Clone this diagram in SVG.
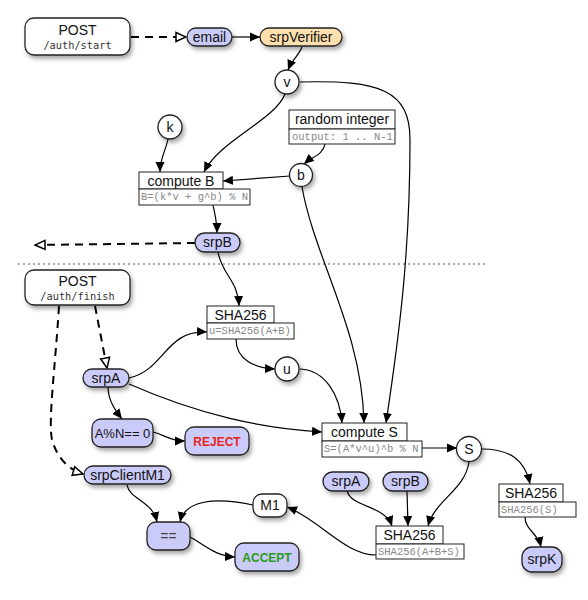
<svg xmlns="http://www.w3.org/2000/svg" width="588" height="600" viewBox="0 0 588 600">
<defs>
<filter id="sh" x="-30%" y="-30%" width="160%" height="170%">
<feDropShadow dx="2" dy="3" stdDeviation="2" flood-color="#000" flood-opacity="0.35"/>
</filter>
<marker id="fa" markerWidth="10" markerHeight="10" refX="10" refY="5" orient="auto" markerUnits="userSpaceOnUse" viewBox="0 0 10 10">
<path d="M0,0.5 L10,5 L0,9.5 z" fill="#000"/>
</marker>
<marker id="ha" markerWidth="12" markerHeight="12" refX="11" refY="6" orient="auto" markerUnits="userSpaceOnUse" viewBox="0 0 12 12">
<path d="M1,1.5 L11,6 L1,10.5 z" fill="#fff" stroke="#000" stroke-width="1.5"/>
</marker>
</defs>
<style>
.bg{fill:#fff}
.rn{stroke:#222;stroke-width:1.3;filter:url(#sh)}
.lav{fill:#cbcbf9}
.org{fill:#fde0ad}
.wh{fill:#fff}
.box{fill:#fff;stroke:#222;stroke-width:1}
.t{font-family:"Liberation Sans",Arial,sans-serif;font-size:14px;fill:#111;text-anchor:middle}
.m{font-family:"DejaVu Sans Mono",monospace;font-size:10.3px;fill:#333;text-anchor:middle}
.f{font-family:"Liberation Mono","Courier New",monospace;font-size:10.5px;fill:#888}
.c{fill:none;stroke:#000;stroke-width:1.2;marker-end:url(#fa)}
.d{fill:none;stroke:#000;stroke-width:2;stroke-dasharray:8,6;marker-end:url(#ha)}
.b{font-weight:bold;font-size:12px}
</style>
<rect class="bg" x="0" y="0" width="588" height="600"/>
<line x1="18" y1="264" x2="487" y2="264" stroke="#555" stroke-width="1.2" stroke-dasharray="2,3"/>

<g id="connectors">
<path class="d" d="M131,37 L186,37"/>
<path class="c" d="M232,37 L260,37"/>
<path class="c" d="M302,47 C299,55 292,60 288,70"/>
<path class="c" d="M285,94 C275,120 220,140 204,172"/>
<path class="c" d="M300,82 C380,80 410,90 410,140 C410,250 400,330 386,423"/>
<path class="c" d="M168,139 C166,150 160,158 160,172"/>
<path class="c" d="M325,144 C323,155 312,157 304,164"/>
<path class="c" d="M290,176 L223,181"/>
<path class="c" d="M302,187 C315,260 362,330 364,423"/>
<path class="c" d="M213,205 C215,215 217,222 217,233"/>
<path class="d" d="M195,243 L35,245"/>
<path class="c" d="M218,252 C222,275 238,280 239,306"/>
<path class="d" d="M95,306 L107,368"/>
<path class="d" d="M59,306 C55,370 48,420 52,440 C58,460 70,470 83,474"/>
<path class="c" d="M129,378 C165,370 165,330 207,332"/>
<path class="c" d="M236,339 C236,360 255,368 275,369"/>
<path class="c" d="M300,369 C325,370 340,395 342,423"/>
<path class="c" d="M129,384 C200,415 260,428 322,432"/>
<path class="c" d="M108,387 C108,400 115,410 122,419"/>
<path class="c" d="M153,432 C165,435 170,441 185,441"/>
<path class="c" d="M422,448 L457,448"/>
<path class="c" d="M482,449 C510,449 525,460 530,484"/>
<path class="c" d="M469,462 C465,490 435,500 428,526"/>
<path class="c" d="M347,491 C352,508 385,505 392,526"/>
<path class="c" d="M407,491 L408,526"/>
<path class="c" d="M376,555 C345,555 320,520 287,507"/>
<path class="c" d="M253,505 C215,497 185,500 180,522"/>
<path class="c" d="M127,485 C130,500 152,500 157,522"/>
<path class="c" d="M190,537 C205,545 215,556 235,557"/>
<path class="c" d="M525,517 C525,530 538,533 541,547"/>
</g>

<g id="post-start">
<rect class="rn wh" x="25" y="18" width="105" height="37" rx="9"/>
<text class="t" x="77.5" y="35">POST</text>
<text class="m" x="77.5" y="49">/auth/start</text>
</g>
<g id="email">
<rect class="rn lav" x="187" y="28" width="45" height="18" rx="9"/>
<text class="t" x="209.5" y="42">email</text>
</g>
<g id="srpVerifier">
<rect class="rn org" x="260" y="28" width="82" height="18" rx="9"/>
<text class="t" x="301" y="42">srpVerifier</text>
</g>
<g id="v">
<circle class="rn wh" cx="287" cy="82" r="12"/>
<text class="t" x="287" y="87">v</text>
</g>
<g id="k">
<circle class="rn wh" cx="170" cy="127" r="12"/>
<text class="t" x="170" y="132">k</text>
</g>
<g id="random-integer">
<rect class="box" x="289" y="110" width="106" height="19"/>
<text class="t" x="342" y="124">random integer</text>
<rect class="box" x="289" y="129" width="106" height="15"/>
<text class="f" x="292" y="140">output: 1 .. N-1</text>
</g>
<g id="b">
<circle class="rn wh" cx="301" cy="175" r="11.5"/>
<text class="t" x="301" y="180">b</text>
</g>
<g id="compute-B">
<rect class="box" x="139" y="172" width="84" height="17"/>
<text class="t" x="181" y="186">compute B</text>
<rect class="box" x="139" y="189" width="111" height="16"/>
<text class="f" x="141" y="200">B=(k*v + g^b) % N</text>
</g>
<g id="srpB">
<rect class="rn lav" x="195" y="233" width="45" height="19" rx="9.5"/>
<text class="t" x="217.5" y="247">srpB</text>
</g>
<g id="post-finish">
<rect class="rn wh" x="25" y="270" width="105" height="35" rx="9"/>
<text class="t" x="77.5" y="286">POST</text>
<text class="m" x="77.5" y="300">/auth/finish</text>
</g>
<g id="sha-u">
<rect class="box" x="207" y="306" width="67" height="17"/>
<text class="t" x="240.5" y="320">SHA256</text>
<rect class="box" x="207" y="323" width="87" height="16"/>
<text class="f" x="209" y="334">u=SHA256(A+B)</text>
</g>
<g id="srpA">
<rect class="rn lav" x="83" y="369" width="46" height="18" rx="9"/>
<text class="t" x="106" y="383">srpA</text>
</g>
<g id="u">
<circle class="rn wh" cx="287" cy="369" r="12"/>
<text class="t" x="287" y="374">u</text>
</g>
<g id="a-mod-n">
<rect class="rn lav" x="92" y="419" width="61" height="28" rx="9"/>
<text class="t" x="122.5" y="438" style="font-size:13px">A%N== 0</text>
</g>
<g id="reject">
<rect class="rn lav" x="185" y="427" width="64" height="28" rx="9"/>
<text class="t b" x="217" y="446" style="fill:#e8231e">REJECT</text>
</g>
<g id="compute-S">
<rect class="box" x="322" y="423" width="85" height="18"/>
<text class="t" x="364.5" y="437">compute S</text>
<rect class="box" x="322" y="441" width="100" height="16"/>
<text class="f" x="324" y="452">S=(A*v^u)^b % N</text>
</g>
<g id="S">
<circle class="rn wh" cx="469" cy="449" r="12.5"/>
<text class="t" x="469" y="454">S</text>
</g>
<g id="srpClientM1">
<rect class="rn lav" x="84" y="466" width="87" height="18" rx="9"/>
<text class="t" x="127.5" y="480">srpClientM1</text>
</g>
<g id="srpA-2">
<rect class="rn lav" x="323" y="472" width="46" height="19" rx="9.5"/>
<text class="t" x="346" y="486">srpA</text>
</g>
<g id="srpB-2">
<rect class="rn lav" x="383" y="472" width="45" height="19" rx="9.5"/>
<text class="t" x="405.5" y="486">srpB</text>
</g>
<g id="sha-S">
<rect class="box" x="499" y="484" width="64" height="18"/>
<text class="t" x="531" y="498">SHA256</text>
<rect class="box" x="499" y="502" width="77" height="15"/>
<text class="f" x="501" y="513">SHA256(S)</text>
</g>
<g id="M1">
<rect class="rn wh" x="253" y="494" width="34" height="23" rx="9"/>
<text class="t" x="270" y="510">M1</text>
</g>
<g id="eq">
<rect class="rn lav" x="147" y="522" width="43" height="28" rx="9"/>
<text class="t" x="168.5" y="541" style="fill:#444">==</text>
</g>
<g id="sha-ABS">
<rect class="box" x="376" y="526" width="67" height="18"/>
<text class="t" x="409.5" y="540">SHA256</text>
<rect class="box" x="376" y="544" width="88" height="15"/>
<text class="f" x="378" y="555">SHA256(A+B+S)</text>
</g>
<g id="accept">
<rect class="rn lav" x="235" y="543" width="64" height="28" rx="9"/>
<text class="t b" x="267" y="562" style="fill:#2a9a18">ACCEPT</text>
</g>
<g id="srpK">
<rect class="rn lav" x="522" y="547" width="40" height="25" rx="10"/>
<text class="t" x="542" y="564">srpK</text>
</g>
</svg>
